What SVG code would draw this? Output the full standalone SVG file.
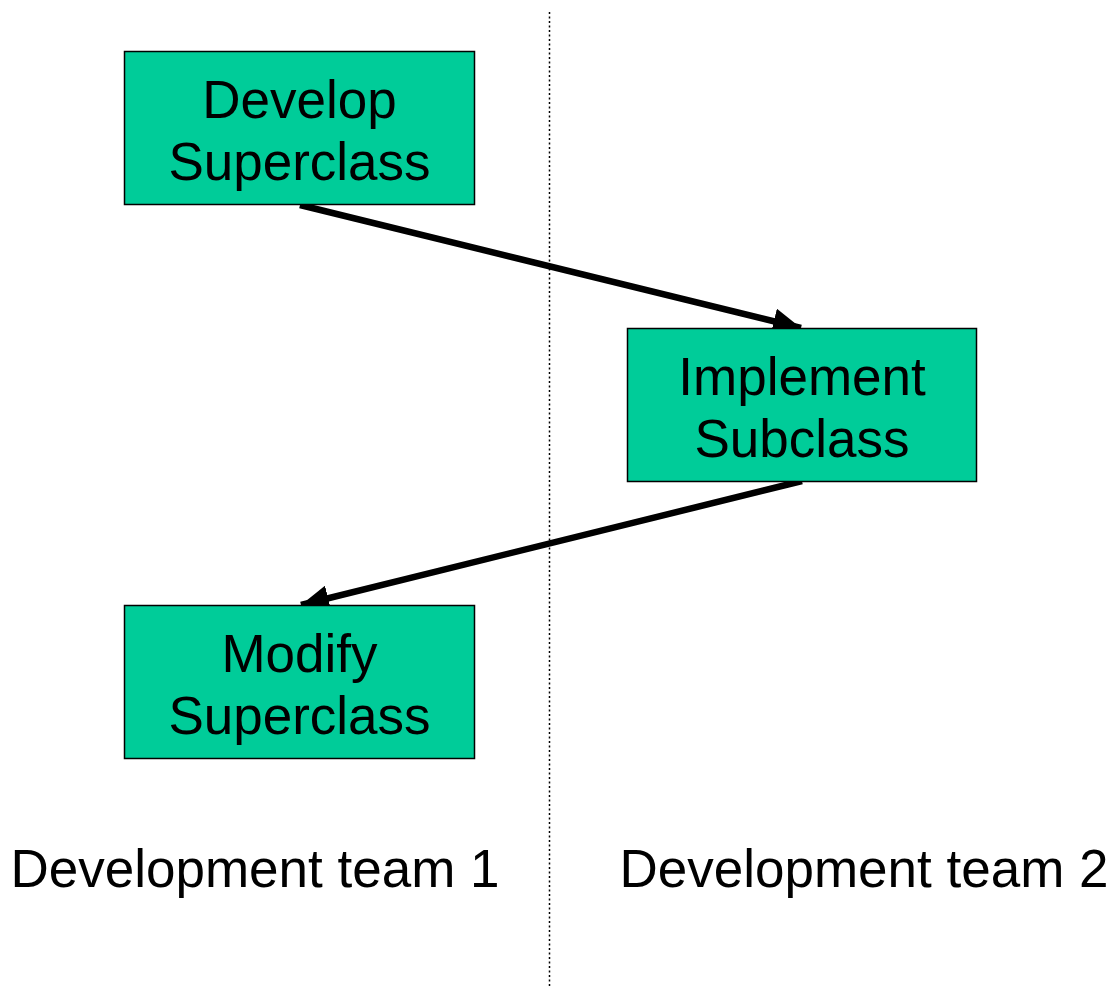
<svg xmlns="http://www.w3.org/2000/svg" width="1114" height="988" viewBox="0 0 1114 988">
<style>
.box{fill:#00CC99;stroke:#000;stroke-width:1.5}
.t{font-family:"Liberation Sans",Arial,sans-serif;font-size:53px;fill:#000;text-anchor:middle}
.c{stroke:#000;stroke-width:6.5;fill:none}
</style>
<defs>
<marker id="ah" markerUnits="userSpaceOnUse" markerWidth="30" markerHeight="26" refX="28" refY="13" orient="auto">
<path d="M0,0 L28,13 L0,26 Z" fill="#000"/>
</marker>
</defs>
<rect width="1114" height="988" fill="#fff"/>
<line x1="549.5" y1="12" x2="549.5" y2="988" stroke="#000" stroke-width="1.5" stroke-dasharray="2,2.5"/>
<g id="connectors">
<line class="c" x1="300" y1="205" x2="801" y2="328" marker-end="url(#ah)"/>
<line class="c" x1="802" y1="481" x2="301" y2="605" marker-end="url(#ah)"/>
</g>
<g id="develop">
<rect class="box" x="124.5" y="51.5" width="350" height="153"/>
<text class="t" x="299.5" y="117.5">Develop</text>
<text class="t" x="299.5" y="179.5">Superclass</text>
</g>
<g id="implement">
<rect class="box" x="627.5" y="328.5" width="349" height="153"/>
<text class="t" x="802" y="394.5">Implement</text>
<text class="t" x="802" y="456.5">Subclass</text>
</g>
<g id="modify">
<rect class="box" x="124.5" y="605.5" width="350" height="153"/>
<text class="t" x="299.5" y="671.5">Modify</text>
<text class="t" x="299.5" y="733.5">Superclass</text>
</g>
<g id="labels">
<text class="t" x="255" y="887">Development team 1</text>
<text class="t" x="864" y="887">Development team 2</text>
</g>
</svg>
